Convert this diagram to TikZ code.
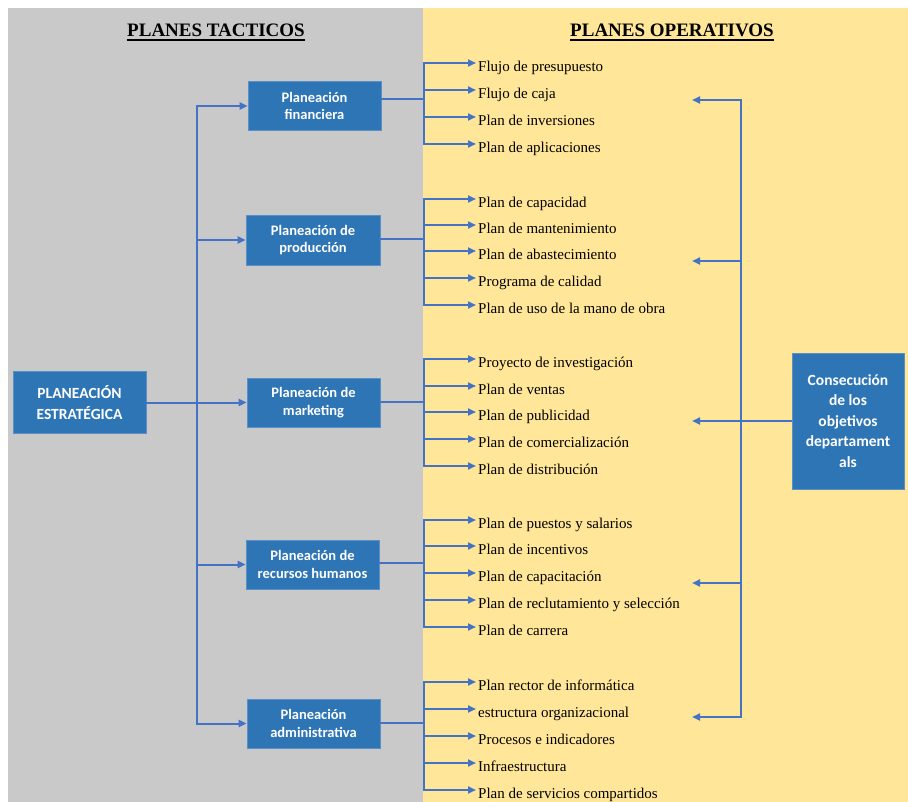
\documentclass[tikz,border=0pt]{standalone}
\usepackage{fontspec}
\setmainfont{Liberation Serif}
\newfontfamily\boxfont{Carlito}
\usetikzlibrary{arrows.meta}
\definecolor{panelgray}{HTML}{C9C9C9}
\definecolor{panelyellow}{HTML}{FFE699}
\definecolor{boxblue}{HTML}{2E75B6}
\definecolor{boxedge}{HTML}{5B8FC7}
\definecolor{linkblue}{HTML}{4472C4}

\begin{document}
\begin{tikzpicture}[x=1pt,y=-1pt,
  plan/.style={draw=boxedge, line width=0.6pt, fill=boxblue, text=white,
    font=\boxfont\bfseries\fontsize{14.5}{17.5}\selectfont, align=center,
    minimum width=133pt, minimum height=49pt, inner sep=0pt},
  bigplan/.style={plan, font=\boxfont\bfseries\fontsize{15.5}{21}\selectfont},
  item/.style={anchor=west, inner xsep=2pt, inner ysep=0pt,
    text height=17pt, text depth=0pt, font=\fontsize{15}{18}\selectfont},
  link/.style={draw=linkblue, line width=2pt, line cap=rect},
  feed/.style={link, line width=2.5pt},
  arr/.style={draw=linkblue, line width=2pt, -{Triangle[length=8pt,width=7pt]}},
  title/.style={anchor=base, inner sep=0pt, font=\bfseries\fontsize{19}{22}\selectfont}]

% page and the two panels
\useasboundingbox (0,0) rectangle (908,802);
\fill[white] (0,0) rectangle (908,802);
\fill[panelgray] (8,8) rectangle (423,802);
\fill[panelyellow] (423,8) rectangle (908,802);

% column titles
\node[title] (tleft) at (216,37) {PLANES TACTICOS};
\node[title] (tright) at (672,37) {PLANES OPERATIVOS};
\draw[line width=2pt] ([yshift=-3pt]tleft.base west) -- ([yshift=-3pt]tleft.base east);
\draw[line width=2pt] ([yshift=-3pt]tright.base west) -- ([yshift=-3pt]tright.base east);

% strategic, tactical and goal boxes
\node[bigplan, minimum height=62pt] (est) at (79.5,402.5) {PLANEACIÓN\\ESTRATÉGICA};
\node[plan] (fin) at (314.5,106) {Planeación\\financiera};
\node[plan, minimum width=134pt, minimum height=50pt] (prod) at (313,240) {Planeación de\\producción};
\node[plan] (mkt) at (313.5,402.5) {Planeación de\\marketing};
\node[plan] (rh) at (312.5,564.5) {Planeación de\\recursos humanos};
\node[plan] (adm) at (313.5,723.5) {Planeación\\administrativa};
\node[bigplan, minimum width=112pt, minimum height=136pt, font=\boxfont\bfseries\fontsize{15.5}{20.5}\selectfont]
  (cons) at (848,421) {Consecución\\de los\\objetivos\\departament\\als};

% strategic tree into the tactical plans
\coordinate (l1) at (197,106);
\coordinate (l2) at (197,240);
\coordinate (l3) at (197,402.5);
\coordinate (l4) at (197,564.5);
\coordinate (l5) at (197,723.5);
\draw[link] (l1) -- (l5);
\draw[arr] (l1) -- (fin);
\draw[arr] (l2) -- (prod);
\draw[arr] (l4) -- (rh);
\draw[arr] (l5) -- (adm);
\draw[arr] (est) -- (mkt);

% operative plans of each tactical plan
\foreach \n/\y/\t in {1/63/Flujo de presupuesto, 2/90/Flujo de caja,
    3/117/Plan de inversiones, 4/144/Plan de aplicaciones} {
  \coordinate (fin-b\n) at (424,\y);
  \node[item] (fin-\n) at (476,\y) {\t};
  \draw[arr] (fin-b\n) -- (fin-\n);
}
\coordinate (fin-j) at (424,99);
\draw[link] (fin-b1) -- (fin-b4);
\draw[feed] (fin.east |- fin-j) -- (fin-j);

\foreach \n/\y/\t in {1/199/Plan de capacidad, 2/225/Plan de mantenimiento,
    3/251/Plan de abastecimiento, 4/278/Programa de calidad,
    5/305/Plan de uso de la mano de obra} {
  \coordinate (prod-b\n) at (424,\y);
  \node[item] (prod-\n) at (476,\y) {\t};
  \draw[arr] (prod-b\n) -- (prod-\n);
}
\coordinate (prod-j) at (424,239);
\draw[link] (prod-b1) -- (prod-b5);
\draw[feed] (prod.east |- prod-j) -- (prod-j);

\foreach \n/\y/\t in {1/359/Proyecto de investigación, 2/386/Plan de ventas,
    3/412/Plan de publicidad, 4/439/Plan de comercialización,
    5/466/Plan de distribución} {
  \coordinate (mkt-b\n) at (424,\y);
  \node[item] (mkt-\n) at (476,\y) {\t};
  \draw[arr] (mkt-b\n) -- (mkt-\n);
}
\coordinate (mkt-j) at (424,402);
\draw[link] (mkt-b1) -- (mkt-b5);
\draw[feed] (mkt.east |- mkt-j) -- (mkt-j);

\foreach \n/\y/\t in {1/520/Plan de puestos y salarios, 2/546/Plan de incentivos,
    3/573/Plan de capacitación, 4/600/Plan de reclutamiento y selección,
    5/627/Plan de carrera} {
  \coordinate (rh-b\n) at (424,\y);
  \node[item] (rh-\n) at (476,\y) {\t};
  \draw[arr] (rh-b\n) -- (rh-\n);
}
\coordinate (rh-j) at (424,563);
\draw[link] (rh-b1) -- (rh-b5);
\draw[feed] (rh.east |- rh-j) -- (rh-j);

\foreach \n/\y/\t in {1/682/Plan rector de informática, 2/709/estructura organizacional,
    3/736/Procesos e indicadores, 4/763/Infraestructura,
    5/790/Plan de servicios compartidos} {
  \coordinate (adm-b\n) at (424,\y);
  \node[item] (adm-\n) at (476,\y) {\t};
  \draw[arr] (adm-b\n) -- (adm-\n);
}
\coordinate (adm-j) at (424,723);
\draw[link] (adm-b1) -- (adm-b5);
\draw[feed] (adm.east |- adm-j) -- (adm-j);

% departmental goals feeding back into every group
\coordinate (r1) at (741,100);
\coordinate (r2) at (741,261);
\coordinate (r4) at (741,583);
\coordinate (r5) at (741,717);
\coordinate (a1) at (692,100);
\coordinate (a2) at (692,261);
\coordinate (a3) at (692,421);
\coordinate (a4) at (692,583);
\coordinate (a5) at (692,717);
\draw[link] (r1) -- (r5);
\draw[arr] (r1) -- (a1);
\draw[arr] (r2) -- (a2);
\draw[arr] (r4) -- (a4);
\draw[arr] (r5) -- (a5);
\draw[arr] (cons) -- (a3);
\end{tikzpicture}
\end{document}
